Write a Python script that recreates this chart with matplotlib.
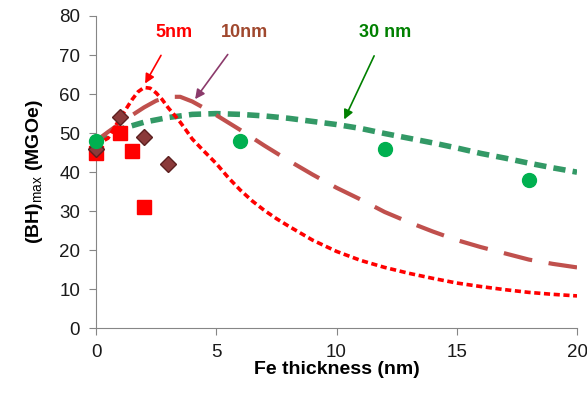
import numpy as np
import matplotlib
matplotlib.use("Agg")
import matplotlib.pyplot as plt

# measured points
sq_x = [0, 1, 1.5, 2]
sq_y = [45, 50, 45.5, 31]
dia_x = [0, 1, 2, 3]
dia_y = [46, 54, 49, 42]
circ_x = [0, 6, 12, 18]
circ_y = [48, 48, 46, 38]

# model curves
c5_x = [0, 0.5, 1, 1.5, 1.75, 2, 2.25, 2.5, 2.75, 3, 3.25, 3.5, 3.75, 4, 4.5, 5, 5.5, 6, 6.5, 7, 7.5, 8,
        9, 10, 11, 12, 13, 14, 15, 16, 17, 18, 19, 20]
c5_y = [47, 48.7, 53.8, 58.6, 60.6, 61.7, 61.5, 60.3, 58.6, 56.5, 54.7, 52.8, 50.7, 48.5, 45.3, 42.2, 38.6, 35.4,
        32.6, 30.2, 28.1, 26.2, 22.6, 19.7, 17.4, 15.6, 14.1, 12.8, 11.6, 10.7, 9.9, 9.2, 8.7, 8.3]
c10_x = [0, 0.5, 1, 1.5, 2, 2.5, 3, 3.5, 4, 4.5, 5, 5.5, 6, 6.5, 7, 7.5, 8, 9, 10, 11, 12, 13, 14, 15, 16, 17,
         18, 19, 20]
c10_y = [48, 50.3, 52.5, 54.6, 56.6, 58.3, 59.3, 59.3, 58.1, 56.4, 54.6, 52.7, 50.8, 48.8, 46.8, 44.9, 43, 39.4,
         36, 33, 29.8, 27.2, 24.8, 22.6, 20.8, 19.2, 17.6, 16.5, 15.6]
c30_x = [0, 1, 2, 3, 4, 5, 6, 7, 8, 9, 10, 11, 12, 13, 14, 15, 16, 17, 18, 19, 20]
c30_y = [48, 51, 52.8, 54, 54.8, 55, 54.8, 54.4, 53.8, 53, 52.2, 51.2, 49.9, 48.7, 47.5, 46.2, 44.8, 43.6, 42.3,
         41.1, 40]

plt.rcParams["font.family"] = ["Liberation Sans", "DejaVu Sans"]
plt.rcParams["mathtext.fontset"] = "custom"
plt.rcParams["mathtext.rm"] = "Liberation Sans"

fig = plt.figure(figsize=(5.87, 3.93), dpi=100)
ax = fig.add_axes([0.1636, 0.1646, 0.8194, 0.7947])

ax.plot(c30_x, c30_y, color="#339966", lw=4, dashes=(2.2, 1.3), zorder=2)
ax.plot(c10_x, c10_y, color="#C0504D", lw=3, dashes=(7, 4), zorder=2)
ax.plot(c5_x, c5_y, color="#FF0000", lw=2.6, dashes=(1.7, 1.0), zorder=2)

ax.plot(sq_x, sq_y, "s", color="#FF0000", ms=10, clip_on=False, zorder=3)
ax.plot(dia_x, dia_y, "D", mfc="#8B3A3A", mec="#5C2020", mew=1, ms=8.5, clip_on=False, zorder=3)
ax.plot(circ_x, circ_y, "o", color="#00B050", ms=10, clip_on=False, zorder=3)

ax.set_xlim(0, 20)
ax.set_ylim(0, 80)
ax.set_xticks([0, 5, 10, 15, 20])
ax.set_yticks(range(0, 81, 10))
for s in ["top", "right"]:
    ax.spines[s].set_visible(False)
for s in ["left", "bottom"]:
    ax.spines[s].set_color("#868686")
ax.tick_params(direction="out", length=5, pad=6.5, color="#868686", labelsize=13.5, labelcolor="#1a1a1a")

ax.set_xlabel("Fe thickness (nm)", fontsize=14, fontweight="bold", labelpad=0)
ax.set_ylabel(r"(BH)$_{\rm max}$ (MGOe)", fontsize=14, fontweight="bold", labelpad=10)

ax.annotate("5nm", xy=(2.04, 62.7), xytext=(3.25, 75.9), color="#FF0000",
            fontsize=13, fontweight="bold", ha="center", va="center",
            arrowprops=dict(arrowstyle="-|>", color="#FF0000", lw=1.2,
                            shrinkA=10, shrinkB=0, mutation_scale=14))
ax.annotate("10nm", xy=(4.12, 58.7), xytext=(6.16, 75.9), color="#A0482E",
            fontsize=13, fontweight="bold", ha="center", va="center",
            arrowprops=dict(arrowstyle="-|>", color="#8B3A6B", lw=1.2,
                            shrinkA=10, shrinkB=0, mutation_scale=14))
ax.annotate("30 nm", xy=(10.32, 53.5), xytext=(12.03, 75.9), color="#008000",
            fontsize=13, fontweight="bold", ha="center", va="center",
            arrowprops=dict(arrowstyle="-|>", color="#008000", lw=1.2,
                            shrinkA=10, shrinkB=0, mutation_scale=14))

plt.savefig("out.png", dpi=100)
